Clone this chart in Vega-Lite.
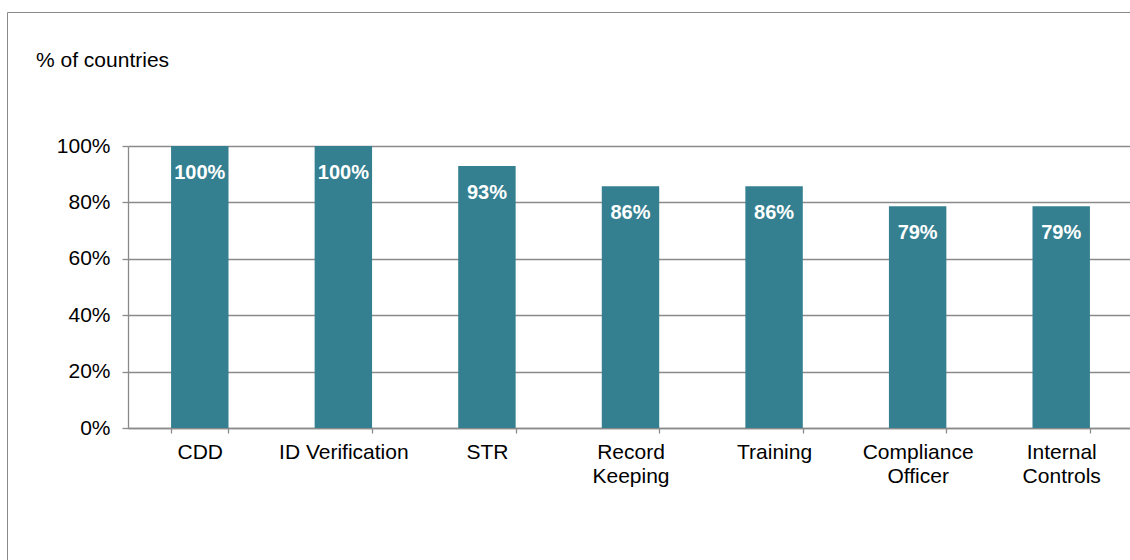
{
  "$schema": "https://vega.github.io/schema/vega-lite/v6.json",
  "autosize": {"type": "none"},
  "padding": {"left": 7, "top": 12, "right": -13, "bottom": -15},
  "width": 1136,
  "height": 563,
  "background": "white",
  "config": {
    "view": {"stroke": "#8a8a8a", "strokeWidth": 1},
    "font": "Liberation Sans"
  },
  "title": {
    "text": "% of countries",
    "anchor": "start",
    "frame": "group",
    "orient": "top",
    "baseline": "alphabetic",
    "offset": 0,
    "dx": 29,
    "dy": 76,
    "fontSize": 21,
    "fontWeight": "normal",
    "color": "#000000",
    "font": "Liberation Sans"
  },
  "data": {
    "values": [
      {"measure": "CDD", "share": 1.0},
      {"measure": "ID Verification", "share": 1.0},
      {"measure": "STR", "share": 0.929},
      {"measure": "Record Keeping", "share": 0.857},
      {"measure": "Training", "share": 0.857},
      {"measure": "Compliance Officer", "share": 0.786},
      {"measure": "Internal Controls", "share": 0.786}
    ]
  },
  "encoding": {
    "x": {
      "field": "measure",
      "type": "nominal",
      "sort": null,
      "scale": {"range": [121, 1126], "paddingInner": 0.6, "paddingOuter": 0.3},
      "axis": {
        "title": null,
        "orient": "bottom",
        "offset": -147,
        "labelAngle": 0,
        "tickBand": "extent",
        "tickSize": 5,
        "tickColor": "#8a8a8a",
        "tickWidth": 1.3,
        "domainColor": "#8a8a8a",
        "domainWidth": 1.3,
        "labelFontSize": 21,
        "labelFont": "Liberation Sans",
        "labelColor": "#000000",
        "labelPadding": 8,
        "labelLineHeight": 24,
        "labelLimit": 300,
        "labelExpr": "datum.value == 'ID Verification' ? datum.label : split(datum.label, ' ')",
        "grid": false
      }
    },
    "y": {
      "field": "share",
      "type": "quantitative",
      "scale": {"domain": [0, 1], "range": [416, 134], "nice": false},
      "axis": {
        "title": null,
        "orient": "left",
        "offset": -121,
        "values": [0, 0.2, 0.4, 0.6, 0.8, 1],
        "format": ".0%",
        "tickSize": 6,
        "tickColor": "#8a8a8a",
        "tickWidth": 1.3,
        "domainColor": "#8a8a8a",
        "domainWidth": 1.3,
        "grid": true,
        "gridColor": "#8a8a8a",
        "gridWidth": 1.3,
        "labelFontSize": 21,
        "labelFont": "Liberation Sans",
        "labelColor": "#000000",
        "labelPadding": 12
      }
    }
  },
  "layer": [
    {
      "mark": {"type": "bar", "color": "#347f90"}
    },
    {
      "mark": {
        "type": "text",
        "color": "white",
        "fontWeight": "bold",
        "fontSize": 20,
        "font": "Liberation Sans",
        "baseline": "top",
        "dy": 17
      },
      "encoding": {
        "text": {"field": "share", "type": "quantitative", "format": ".0%"}
      }
    }
  ]
}
